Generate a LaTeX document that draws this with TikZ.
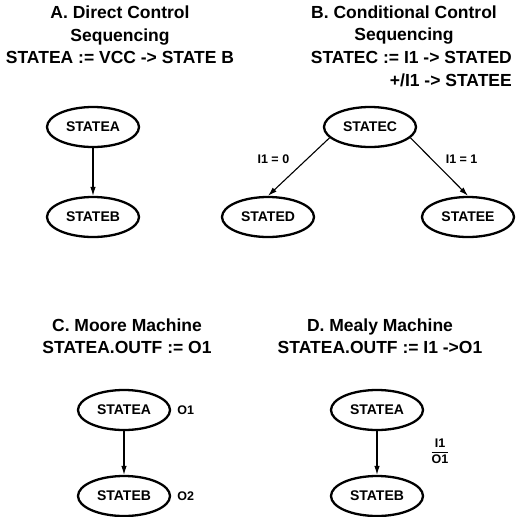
\documentclass[tikz,border=0pt]{standalone}
\usepackage{fontspec}
\setmainfont{Liberation Sans}
\usetikzlibrary{shapes.geometric, arrows.meta, positioning}

\begin{document}
\begin{tikzpicture}[
		x=1pt, y=-1pt,
		>={Latex[length=9pt, width=5.5pt]},
		% Estilos de los nodos
		state/.style={draw, ellipse, line width=2.3pt, minimum width=92pt, minimum height=40pt, inner sep=0pt, font=\fontsize{14}{16}\selectfont\bfseries},
		title/.style={align=center, inner sep=0pt, font=\fontsize{17.5}{22.5}\selectfont\bfseries},
		cond/.style={inner sep=0pt, font=\fontsize{12.5}{14}\selectfont\bfseries},
		line/.style={draw, line width=1.1pt, ->}
		]
		\useasboundingbox (0,0) rectangle (515,517);
		
		% --- A. CONTROL DIRECTO ---
		\node [title] (titleA) at (120,35) {A. Direct Control\\Sequencing\\STATEA := VCC -> STATE B};
		\node [state] (A1) at (93,127) {STATEA};
		\node [state] (A2) at (93,217) {STATEB};
		\draw [line] (A1) -- (A2);
		
		% --- B. CONTROL CONDICIONAL ---
		\node [title] (titleB) at (404,25) {B. Conditional Control\\Sequencing};
		\node [title, anchor=east, align=right] (eqB) at (512,69) {STATEC := I1 -> STATED\\+/I1 -> STATEE};
		\node [state] (SC) at (370,127) {STATEC};
		\node [state] (SD) at (268,217) {STATED};
		\node [state] (SE) at (468,217) {STATEE};
		\draw [line] (SC.195) -- node [cond, above left=3pt and 9pt] {I1 = 0} (SD.north);
		\draw [line] (SC.-15) -- node [cond, above right=3pt and 6pt] {I1 = 1} (SE.north);
		
		% --- C. MAQUINA DE MOORE ---
		\node [title] (titleC) at (127,336) {C. Moore Machine\\STATEA.OUTF := O1};
		\node [state] (C1) at (124,410) {STATEA};
		\node [state] (C2) at (124,496) {STATEB};
		\node [cond, right=6pt of C1] (out1) {O1};
		\node [cond, right=6pt of C2] (out2) {O2};
		\draw [line] (C1) -- (C2);
		
		% --- D. MAQUINA DE MEALY ---
		\node [title] (titleD) at (380,336) {D. Mealy Machine\\STATEA.OUTF := I1 ->O1};
		\node [state] (D1) at (377,410) {STATEA};
		\node [state] (D2) at (377,496) {STATEB};
		\node [cond] (io) at (440,451) {$\displaystyle\frac{\mbox{I1}}{\mbox{O1}}$};
		\draw [line] (D1) -- (D2);
		
	\end{tikzpicture}
\end{document}
